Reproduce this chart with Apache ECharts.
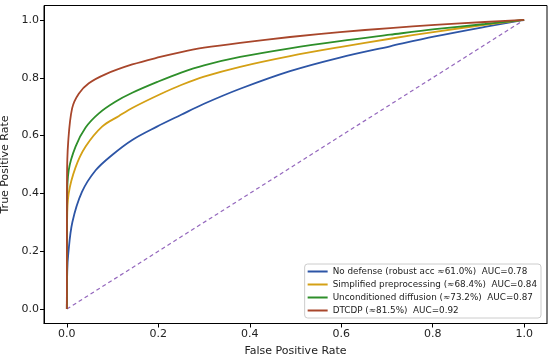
<!DOCTYPE html>
<html><head><meta charset="utf-8">
<script src="https://cdn.jsdelivr.net/npm/echarts@6/dist/echarts.min.js"></script>
<style>html,body{margin:0;padding:0;background:#fff}#c{width:550px;height:360px}</style>
</head><body><div id="c"></div>
<script>
const seriesNames = [
  'No defense (robust acc ≈61.0%)  AUC=0.78',
  'Simplified preprocessing (≈68.4%)  AUC=0.84',
  'Unconditioned diffusion (≈73.2%)  AUC=0.87',
  'DTCDP (≈81.5%)  AUC=0.92'
];
const fprNoDef = [0, 0.0008, 0.003, 0.012, 0.033, 0.063, 0.099, 0.143, 0.197, 0.25, 0.30, 0.379, 0.488, 0.597, 0.707, 0.805, 0.914, 1];
const tprNoDef = [0, 0.13, 0.19, 0.30, 0.405, 0.48, 0.533, 0.585, 0.631, 0.672, 0.71, 0.762, 0.823, 0.870, 0.909, 0.943, 0.976, 1];
const fprSimp = [0, 0.0005, 0.004, 0.019, 0.041, 0.077, 0.114, 0.146, 0.204, 0.25, 0.30, 0.379, 0.488, 0.597, 0.707, 0.805, 0.914, 1];
const tprSimp = [0, 0.30, 0.40, 0.49, 0.562, 0.631, 0.668, 0.698, 0.743, 0.775, 0.804, 0.838, 0.875, 0.906, 0.935, 0.959, 0.983, 1];
const fprUncond = [0, 0.0004, 0.004, 0.019, 0.041, 0.070, 0.106, 0.143, 0.20, 0.25, 0.30, 0.379, 0.488, 0.597, 0.707, 0.805, 0.914, 1];
const tprUncond = [0, 0.37, 0.48, 0.562, 0.628, 0.677, 0.717, 0.748, 0.787, 0.818, 0.843, 0.872, 0.902, 0.927, 0.949, 0.968, 0.986, 1];
const fprDTCDP = [0, 0.0003, 0.003, 0.0116, 0.026, 0.048, 0.084, 0.143, 0.204, 0.25, 0.30, 0.379, 0.488, 0.597, 0.707, 0.805, 0.914, 1];
const tprDTCDP = [0, 0.45, 0.58, 0.695, 0.745, 0.781, 0.812, 0.846, 0.872, 0.889, 0.904, 0.921, 0.941, 0.958, 0.972, 0.983, 0.993, 1];
const diagFpr = [0, 1];
const diagTpr = [0, 1];
const tickValues = [0, 0.2, 0.4, 0.6, 0.8, 1.0];
const colors = ['#2d55a6', '#d4a015', '#2e8f2a', '#a8462b'];

const zip = (a, b) => a.map((v, i) => [v, b[i]]);
const curves = [zip(fprNoDef, tprNoDef), zip(fprSimp, tprSimp), zip(fprUncond, tprUncond), zip(fprDTCDP, tprDTCDP)];

const font = 'DejaVu Sans';
const axisCommon = {
  type: 'value', min: -0.05, max: 1.05,
  splitLine: {show: false},
  axisLine: {show: true, onZero: false, lineStyle: {color: '#000', width: 1}},
  axisTick: {show: true, customValues: tickValues, length: 4, lineStyle: {color: '#000'}},
  axisLabel: {customValues: tickValues, formatter: v => v.toFixed(1), color: '#222', fontFamily: font, fontSize: 11, margin: 5},
  nameLocation: 'middle',
  nameTextStyle: {color: '#222', fontFamily: font, fontSize: 11}
};

const chart = echarts.init(document.getElementById('c'), null, {renderer: 'canvas'});
chart.setOption({
  animation: false,
  backgroundColor: '#fff',
  grid: {left: 44, right: 3, top: 5.5, bottom: 36.5, containLabel: false, outerBoundsMode: 'none',
         show: true, borderColor: '#000', borderWidth: 1, backgroundColor: 'transparent'},
  xAxis: Object.assign({}, axisCommon, {name: 'False Positive Rate', nameGap: 22}),
  yAxis: Object.assign({}, axisCommon, {name: 'True Positive Rate', nameGap: 29}),
  legend: {
    orient: 'vertical', right: 9, bottom: 42,
    data: seriesNames,
    icon: 'rect', itemWidth: 20, itemHeight: 2, itemGap: 4,
    textStyle: {fontFamily: font, fontSize: 8.8, color: '#222'},
    backgroundColor: 'rgba(255,255,255,0.85)', borderColor: '#ccc', borderWidth: 1, borderRadius: 3,
    padding: [3, 4, 3, 3]
  },
  series: curves.map((d, i) => ({
    name: seriesNames[i], type: 'line', data: d, showSymbol: false, smooth: 0.35,
    lineStyle: {color: colors[i], width: 1.8}, itemStyle: {color: colors[i]}, z: 3 + i
  })).concat([{
    name: 'diag', type: 'line', data: zip(diagFpr, diagTpr), showSymbol: false,
    lineStyle: {color: '#9467bd', width: 1.2, type: [4, 3]}, z: 2
  }])
});
</script></body></html>
